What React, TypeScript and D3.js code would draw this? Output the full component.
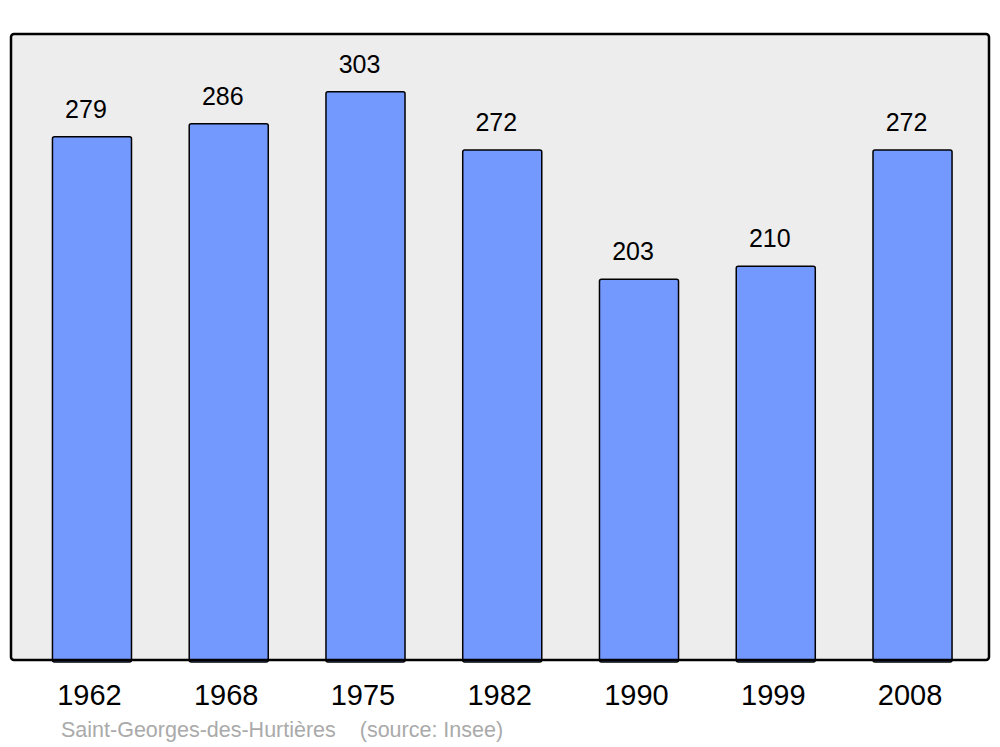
import React, { useRef, useEffect } from 'react';
import * as d3 from 'd3';

const years = ['1962', '1968', '1975', '1982', '1990', '1999', '2008'];
const population = [279, 286, 303, 272, 203, 210, 272];
const placeName = 'Saint-Georges-des-Hurtières';
const sourceNote = '(source: Insee)';

const App = () => {
  const svgRef = useRef<SVGSVGElement | null>(null);

  useEffect(() => {
    if (!svgRef.current) return;
    const svg = d3.select(svgRef.current);
    svg.selectAll('*').remove();

    const panel = { left: 11, top: 34, right: 989, bottom: 660 };

    const x = d3
      .scaleBand<string>()
      .domain(years)
      .range([23.6, 980.9])
      .paddingInner(0.422)
      .paddingOuter(0.211);

    const y = d3
      .scaleLinear()
      .domain([0, d3.max(population)! * 1.1])
      .range([panel.bottom, panel.top + 1]);

    // background panel
    svg
      .append('rect')
      .attr('x', panel.left)
      .attr('y', panel.top)
      .attr('width', panel.right - panel.left)
      .attr('height', panel.bottom - panel.top)
      .attr('rx', 3)
      .attr('fill', '#ededed')
      .attr('stroke', 'none');

    const data = years.map((yr, i) => ({ year: yr, value: population[i] }));

    // bars
    svg
      .selectAll('rect.bar')
      .data(data)
      .enter()
      .append('rect')
      .attr('class', 'bar')
      .attr('x', (d) => x(d.year)!)
      .attr('y', (d) => y(d.value))
      .attr('width', x.bandwidth())
      .attr('height', (d) => panel.bottom - y(d.value) + 2)
      .attr('rx', 2)
      .attr('fill', '#7399ff')
      .attr('stroke', '#000')
      .attr('stroke-width', 1.5);

    // panel border on top
    svg
      .append('rect')
      .attr('x', panel.left)
      .attr('y', panel.top)
      .attr('width', panel.right - panel.left)
      .attr('height', panel.bottom - panel.top)
      .attr('rx', 3)
      .attr('fill', 'none')
      .attr('stroke', '#000')
      .attr('stroke-width', 2.5);

    // value labels
    svg
      .selectAll('text.value')
      .data(data)
      .enter()
      .append('text')
      .attr('class', 'value')
      .attr('x', (d) => x(d.year)! + x.bandwidth() / 2 - 6)
      .attr('y', (d) => y(d.value) - 19)
      .attr('text-anchor', 'middle')
      .attr('font-family', 'Liberation Sans, Arial, sans-serif')
      .attr('font-size', 25)
      .attr('fill', '#000')
      .text((d) => d.value);

    // year labels
    svg
      .selectAll('text.year')
      .data(data)
      .enter()
      .append('text')
      .attr('class', 'year')
      .attr('x', (d) => x(d.year)! + x.bandwidth() / 2 - 2.5)
      .attr('y', 705)
      .attr('text-anchor', 'middle')
      .attr('font-family', 'Liberation Sans, Arial, sans-serif')
      .attr('font-size', 29)
      .attr('fill', '#000')
      .text((d) => d.year);

    // source line
    svg
      .append('text')
      .attr('x', 61)
      .attr('y', 737)
      .attr('font-family', 'Liberation Sans, Arial, sans-serif')
      .attr('font-size', 21.5)
      .attr('fill', '#aaaaaa')
      .attr('xml:space', 'preserve')
      .style('white-space', 'pre')
      .text(`${placeName}    ${sourceNote}`);
  }, []);

  return (
    <svg
      ref={svgRef}
      width={1000}
      height={747}
      style={{ position: 'absolute', left: 0, top: 0, background: '#fff' }}
    />
  );
};

export default App;
